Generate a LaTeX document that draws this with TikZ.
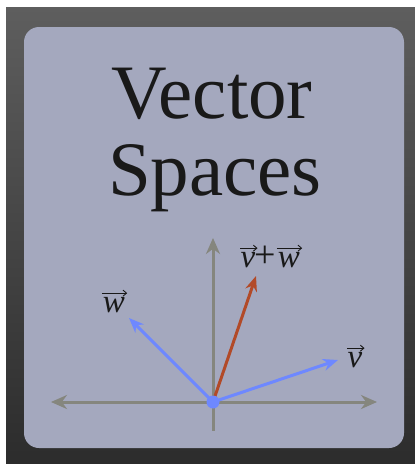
\documentclass[tikz,border=0pt]{standalone}
\usepackage{fontspec}
\setmainfont{Liberation Serif}
\usetikzlibrary{arrows.meta}
\definecolor{cardc}{HTML}{A4A8BE}
\definecolor{bgtop}{HTML}{5E5E5E}
\definecolor{bgbot}{HTML}{2C2C2C}
\definecolor{axisc}{HTML}{85867E}
\definecolor{vecb}{HTML}{6E88FF}
\definecolor{vecr}{HTML}{B24A28}
\tikzset{
  axisline/.style={draw=axisc, line width=3pt},
  axisarrow/.style={axisline, -{Stealth[length=16pt,width=14pt]}},
  vecarrow/.style={line width=3pt, -{Stealth[length=15pt,width=12pt]}},
  lbl/.style={font=\fontsize{33}{36}\selectfont\itshape, text=black!90, inner sep=0pt, anchor=base},
  plbl/.style={font=\fontsize{38}{40}\selectfont, text=black!90, inner sep=0pt, anchor=base},
  accent/.style={draw=black!90, line width=0.9pt, -{Straight Barb[length=3.5pt,width=6pt]}},
  title/.style={font=\fontsize{77}{82}\selectfont, text=black!90, inner sep=0pt, anchor=base}
}
\begin{document}
\begin{tikzpicture}[x=1pt,y=-1pt]
\useasboundingbox (0,0) rectangle (415,464);
\fill[white] (0,0) rectangle (415,464);
\shade[top color=bgtop, bottom color=bgbot] (6,7) rectangle (415,464);
\fill[cardc, rounded corners=15pt] (24,27) rectangle (404,448);
\node[title] (t1) at (212,118) {Vector};
\node[title] (t2) at (215,195) {Spaces};
\coordinate (o) at (213,402);
\coordinate (xl) at (51,402);
\coordinate (xr) at (377,402);
\coordinate (yt) at (213,238);
\coordinate (yb) at (213,431);
\draw[axisarrow] (o) -- (xl);
\draw[axisarrow] (o) -- (xr);
\draw[axisarrow] (o) -- (yt);
\draw[axisline] (o) -- (yb);
\coordinate (w) at (129,318);
\coordinate (v) at (338,360);
\coordinate (vw) at (256,276);
\draw[vecarrow, draw=vecr] (o) -- (vw);
\draw[vecarrow, draw=vecb] (o) -- (w);
\draw[vecarrow, draw=vecb] (o) -- (v);
\fill[vecb] (o) circle (6.5pt);
% labels
\node[lbl] (lw) at (114,312) {w};
\draw[accent] ([shift={(-1pt,3.5pt)}]lw.north west) -- ([shift={(2pt,3.5pt)}]lw.north east);
\node[lbl] (lv) at (355,367) {v};
\draw[accent] ([shift={(0pt,3.5pt)}]lv.north west) -- ([shift={(2pt,3.5pt)}]lv.north east);
\node[lbl] (lsv) at (248,267) {v};
\draw[accent] ([shift={(0pt,3.5pt)}]lsv.north west) -- ([shift={(2pt,3.5pt)}]lsv.north east);
\node[plbl] (lplus) at (265,267) {+};
\node[lbl] (lsw) at (289,267) {w};
\draw[accent] ([shift={(-1pt,3.5pt)}]lsw.north west) -- ([shift={(2pt,3.5pt)}]lsw.north east);
\end{tikzpicture}
\end{document}
